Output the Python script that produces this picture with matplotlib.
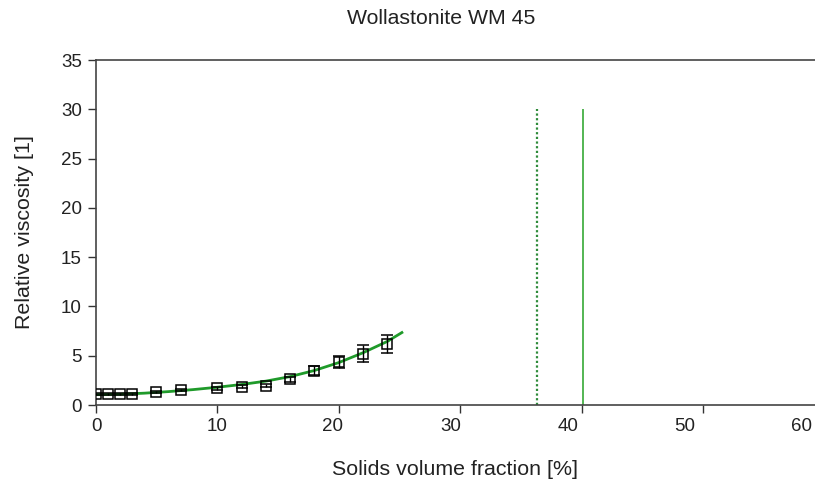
import numpy as np
import matplotlib
matplotlib.use('Agg')
import matplotlib.pyplot as plt

plt.rcParams['font.family'] = ['Liberation Sans', 'DejaVu Sans']

#measured points
phi = [0, 1, 2, 3, 5, 7, 10, 12, 14, 16, 18, 20, 22, 24]
eta = [1.08, 1.08, 1.08, 1.08, 1.3, 1.52, 1.68, 1.86, 1.96, 2.6, 3.5, 4.35, 5.2, 6.22]
etaErr = [0.1, 0.1, 0.1, 0.1, 0.1, 0.12, 0.15, 0.15, 0.15, 0.25, 0.45, 0.6, 0.85, 0.93]

#fitted curve
fitPhi = [0, 2, 4, 6, 8, 10, 12, 14, 16, 18, 20, 22, 24, 25.2]
fitEta = [1.05, 1.09, 1.2, 1.36, 1.56, 1.8, 2.08, 2.42, 2.88, 3.5, 4.3, 5.3, 6.45, 7.35]

#vertical markers
phiDotted = 36.3
phiSolid = 40.1
lineTop = 30

#x tick marks and where the labels sit (labels drift left in the original)
xTickPos = [0, 10, 20, 30, 40, 50]
xLabelPos = [0.08, 9.95, 19.46, 29.2, 38.9, 48.5, 58.1]
xLabels = ['0', '10', '20', '30', '40', '50', '60']
yTicks = [0, 5, 10, 15, 20, 25, 30, 35]

fig = plt.figure(figsize=(8.15, 4.86), dpi=100)
ax = fig.add_axes([95.7 / 815, 1 - 405 / 486, 1 - 95.7 / 815, (405 - 60) / 486])

ax.plot(fitPhi, fitEta, color='#1f9a2a', lw=2.0, zorder=2)
ax.errorbar(phi, eta, yerr=etaErr, fmt='s', mfc='none', mec='black', mew=1.1,
            ms=7, ecolor='black', elinewidth=1.0, capsize=4, capthick=1.0, zorder=3)

ax.vlines(phiDotted, 0, lineTop, colors='#2e8b3a', linestyles=(0, (1, 1.1)), lw=1.6)
ax.vlines(phiSolid, 0, lineTop, colors='#45b045', lw=1.3)

ax.set_xlim(0, 59.2)
ax.set_ylim(0, 35)

ax.spines['right'].set_visible(False)
for s in ['left', 'bottom', 'top']:
    ax.spines[s].set_color('#444444')
    ax.spines[s].set_linewidth(1.2)

#labels on major ticks (no marks), marks on minor ticks
ax.set_xticks(xLabelPos)
ax.set_xticklabels(xLabels)
ax.set_xticks(xTickPos, minor=True)
ax.tick_params(axis='x', which='major', length=0, pad=9, labelsize=13.5, colors='#222222')
ax.tick_params(axis='x', which='minor', length=6, width=1, color='#333333')
ax.set_yticks(yTicks)
ax.tick_params(axis='y', length=6, width=1, color='#333333', labelsize=13.5, labelcolor='#222222', pad=4)

ax.set_xlabel('Solids volume fraction [%]', fontsize=15.4, color='#222222', labelpad=18)
ax.set_ylabel('Relative viscosity [1]', fontsize=15.4, color='#222222', labelpad=19)
fig.text(441 / 815, 1 - 19 / 486, 'Wollastonite WM 45', ha='center', va='center',
         fontsize=15.3, color='#222222')

fig.savefig('out.png', dpi=100)
